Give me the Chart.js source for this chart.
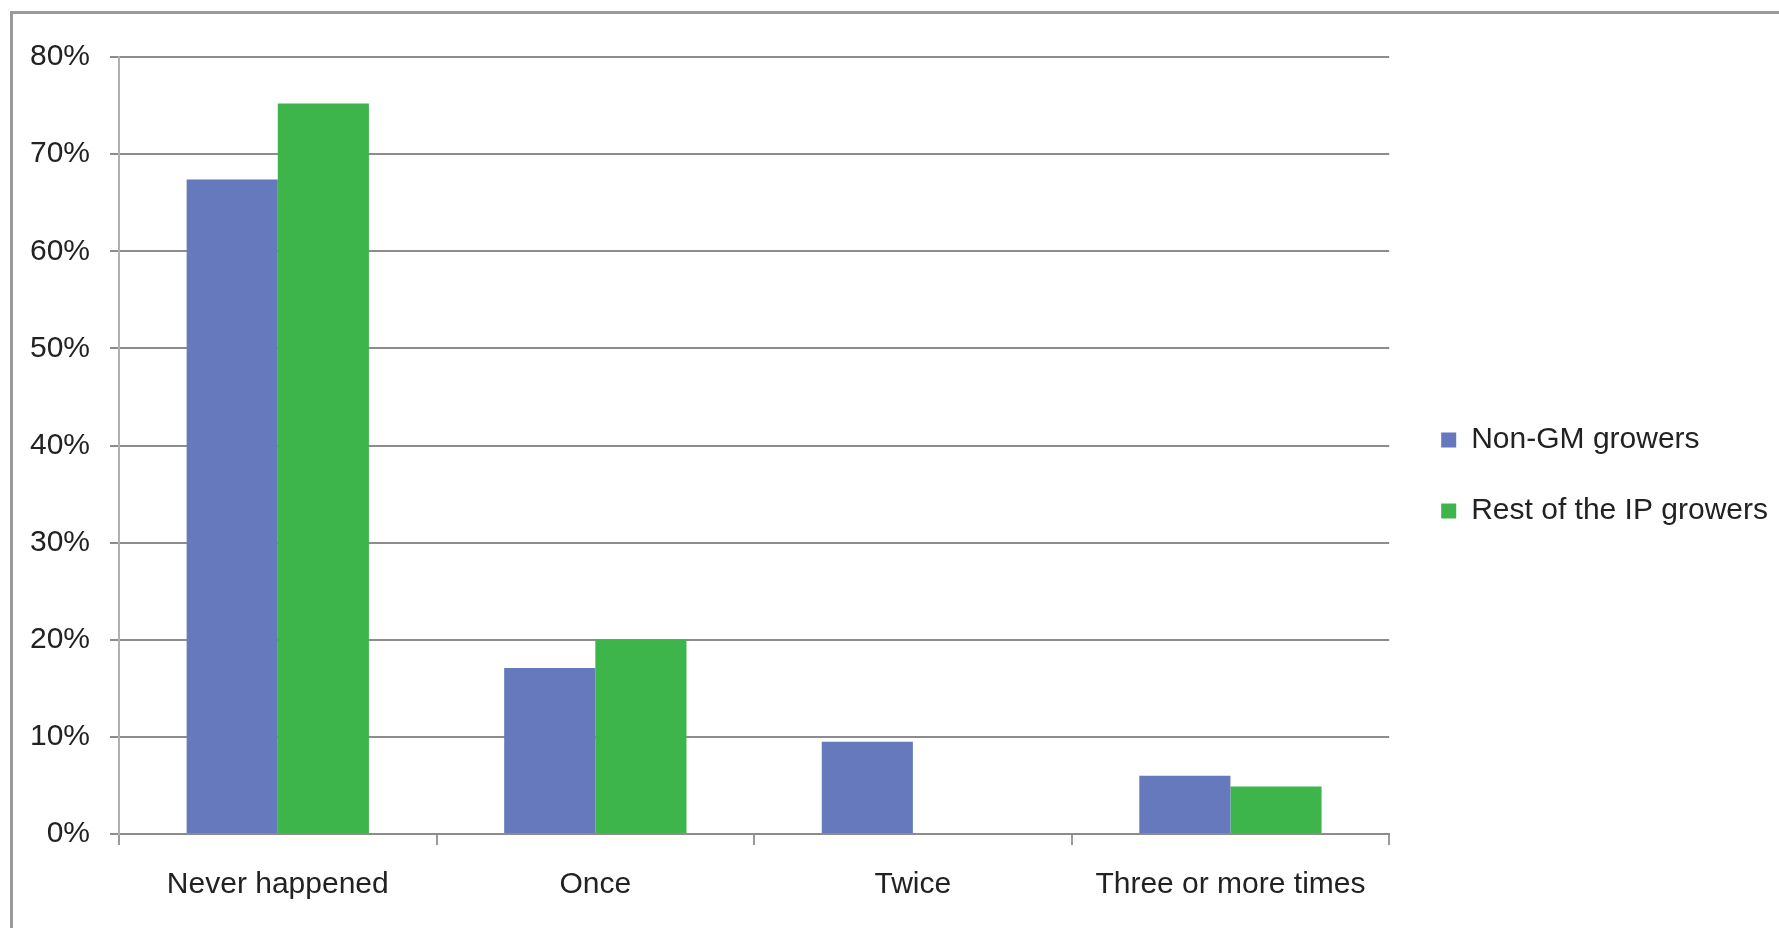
<!DOCTYPE html>
<html>
<head>
<meta charset="utf-8">
<script src="https://cdn.jsdelivr.net/npm/chart.js@4.4.1/dist/chart.umd.min.js"></script>
<style>
  body { margin: 0; background: #fff; }
  #wrap { position: relative; width: 1779px; height: 928px; }
  #frame { position: absolute; left: 10px; top: 11px; right: -5px; bottom: -5px;
           border-top: 3px solid #9a9a9a; border-left: 3px solid #9a9a9a; pointer-events: none; }
</style>
</head>
<body>
<div id="wrap">
  <canvas id="mycanvas" width="1779" height="928"></canvas>
  <div id="frame"></div>
</div>
<script>
// categories and series
var categories = ['Never happened', 'Once', 'Twice', 'Three or more times'];
var nonGM = [67.4, 17.1, 9.5, 6.0];
var restIP = [75.2, 20.0, 0, 4.9];
var yTicks = [0, 10, 20, 30, 40, 50, 60, 70, 80];

Chart.defaults.font.family = "'Liberation Sans', Arial, sans-serif";
Chart.defaults.color = '#222';

// nudge the legend: a bit away from the plot and a bit higher
var legendNudge = {
	id: 'legendNudge',
	afterLayout: function(chart) {
		chart.legend.left += 11;
		chart.legend.right += 11;
		chart.legend.top -= 17;
		chart.legend.bottom -= 17;
	}
};

var chartdata = {
	labels: categories,
	datasets: [
		{
			label: 'Non-GM growers',
			backgroundColor: '#6679bd',
			data: nonGM
		},
		{
			label: 'Rest of the IP growers',
			backgroundColor: '#3db54b',
			data: restIP
		}
	]
};

var ctx = document.getElementById('mycanvas');

var barGraph = new Chart(ctx, {
	type: 'bar',
	data: chartdata,
	plugins: [legendNudge],
	options: {
		responsive: false,
		animation: false,
		devicePixelRatio: 1,
		layout: { padding: { left: 20, top: 57, right: 12, bottom: 0 } },
		datasets: { bar: { categoryPercentage: 0.574, barPercentage: 1.0 } },
		plugins: {
			tooltip: { enabled: false },
			legend: {
				position: 'right',
				labels: {
					boxWidth: 15,
					boxHeight: 15,
					padding: 41,
					font: { size: 30 },
					color: '#222'
				}
			}
		},
		scales: {
			x: {
				afterFit: function(scale) { scale.height = 94; },
				grid: {
					offset: true,
					drawOnChartArea: false,
					tickLength: 11,
					color: '#9a9a9a',
					lineWidth: 2
				},
				border: { color: '#8c8c8c', width: 2 },
				ticks: { font: { size: 30 }, padding: 22, color: '#222', maxRotation: 0, autoSkip: false }
			},
			y: {
				min: 0,
				max: 80,
				afterBuildTicks: function(scale) {
					scale.ticks = yTicks.map(function(v) { return { value: v }; });
				},
				afterFit: function(scale) { scale.width = 99; },
				grid: { color: '#8c8c8c', lineWidth: 2, tickLength: 9 },
				border: { color: '#b0b0b0', width: 2 },
				ticks: {
					font: { size: 30 },
					padding: 20,
					color: '#222',
					callback: function(v) { return v + '%'; }
				}
			}
		}
	}
});
</script>
</body>
</html>
